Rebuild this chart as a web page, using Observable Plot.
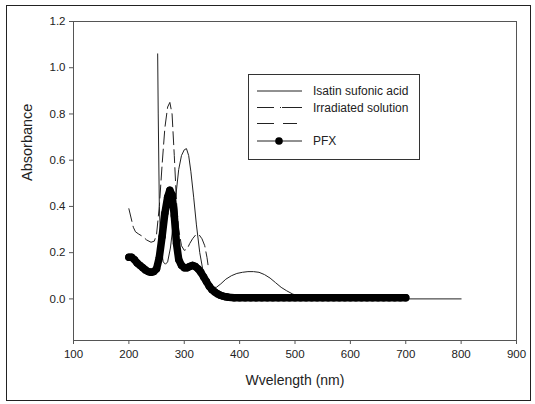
<!DOCTYPE html>
<html>
<head>
<meta charset="utf-8">
<script src="https://cdn.jsdelivr.net/npm/d3@7"></script>
<script src="https://cdn.jsdelivr.net/npm/@observablehq/plot@0.6"></script>
<style>
  body { margin: 0; background: white; }
  #wrap { position: relative; width: 535px; height: 404px; font-family: "Liberation Sans", Arial, sans-serif; }
  #border { position: absolute; left: 6px; top: 5px; width: 523px; height: 394px; border: 1px solid #222; pointer-events: none; }
  #legend { position: absolute; left: 248px; top: 74px; }
</style>
</head>
<body>
<div id="wrap"><div id="chart"></div><div id="border"></div><div id="legend"></div></div>
<script>
// Tick labels
const xTicks = [100, 200, 300, 400, 500, 600, 700, 800, 900];
const yTicks = [0.0, 0.2, 0.4, 0.6, 0.8, 1.0, 1.2];
const xLabel = "Wvelength (nm)";
const yLabel = "Absorbance";

// Series names
const seriesNames = ["Isatin sufonic acid", "Irradiated solution", "", "PFX"];

// Isatin sulfonic acid (solid thin)
const isatinWl  = [252, 253, 255, 258, 262, 266, 270, 275, 280, 285, 290, 295, 300, 304, 308, 312, 317, 322, 328, 334, 340, 346, 352, 358, 366, 375, 385, 395, 405, 415, 425, 435, 445, 455, 465, 475, 485, 495, 505, 515, 600, 700, 800];
const isatinAbs = [1.06, 0.80, 0.40, 0.22, 0.16, 0.15, 0.16, 0.22, 0.32, 0.45, 0.56, 0.62, 0.645, 0.65, 0.62, 0.55, 0.44, 0.32, 0.20, 0.12, 0.08, 0.06, 0.05, 0.05, 0.065, 0.085, 0.10, 0.11, 0.115, 0.118, 0.118, 0.115, 0.105, 0.09, 0.07, 0.05, 0.035, 0.022, 0.012, 0.003, 0.0, 0.0, 0.0];

// Irradiated solution (dashed)
const irrWl  = [200, 204, 208, 212, 218, 225, 232, 240, 246, 250, 255, 260, 265, 270, 274, 278, 282, 286, 290, 295, 300, 305, 310, 315, 320, 326, 332, 337, 341, 344];
const irrAbs = [0.39, 0.35, 0.31, 0.29, 0.28, 0.27, 0.255, 0.245, 0.25, 0.28, 0.40, 0.58, 0.74, 0.83, 0.85, 0.80, 0.62, 0.42, 0.30, 0.23, 0.21, 0.215, 0.24, 0.26, 0.275, 0.28, 0.26, 0.23, 0.18, 0.13];

// PFX (thick line with dots)
const pfxWl  = [200, 205, 210, 215, 220, 225, 230, 235, 240, 245, 250, 255, 260, 265, 270, 274, 278, 282, 286, 290, 295, 300, 305, 310, 315, 320, 325, 330, 335, 340, 345, 350, 355, 360, 365, 370, 375, 380, 390, 400, 410, 420, 430, 440, 450, 460, 470, 480, 490, 500, 510, 520, 530, 540, 550, 560, 570, 580, 590, 600, 610, 620, 630, 640, 650, 660, 670, 680, 690, 700];
const pfxAbs = [0.18, 0.18, 0.17, 0.155, 0.145, 0.135, 0.125, 0.118, 0.115, 0.118, 0.13, 0.18, 0.27, 0.37, 0.44, 0.47, 0.45, 0.36, 0.24, 0.17, 0.145, 0.135, 0.135, 0.14, 0.145, 0.14, 0.13, 0.115, 0.095, 0.075, 0.055, 0.04, 0.03, 0.022, 0.016, 0.012, 0.009, 0.007, 0.005, 0.005, 0.005, 0.005, 0.005, 0.005, 0.005, 0.005, 0.005, 0.005, 0.005, 0.005, 0.005, 0.005, 0.005, 0.005, 0.005, 0.005, 0.005, 0.005, 0.005, 0.005, 0.005, 0.005, 0.005, 0.005, 0.005, 0.005, 0.005, 0.005, 0.005, 0.005];

const isatin = isatinWl.map((x, i) => ({x, y: isatinAbs[i]}));
const irr = irrWl.map((x, i) => ({x, y: irrAbs[i]}));
const pfx = pfxWl.map((x, i) => ({x, y: pfxAbs[i]}));

const chart = Plot.plot({
  width: 535,
  height: 404,
  marginLeft: 73,
  marginRight: 19,
  marginTop: 21,
  marginBottom: 64,
  style: {fontFamily: "'Liberation Sans', Arial, sans-serif", fontSize: "11.5px", color: "#222", background: "white", overflow: "visible"},
  x: {domain: [100, 900]},
  y: {domain: [-0.18, 1.2]},
  marks: [
    Plot.frame({stroke: "#555"}),
    Plot.axisX({ticks: xTicks, tickSize: 4, tickPadding: 5, label: null, stroke: "#555"}),
    Plot.axisY({ticks: yTicks, tickSize: 4, tickPadding: 4, tickFormat: d => d.toFixed(1), label: null, stroke: "#555"}),
    Plot.line(isatin, {x: "x", y: "y", stroke: "#222", strokeWidth: 1}),
    Plot.line(irr, {x: "x", y: "y", stroke: "#222", strokeWidth: 1, strokeDasharray: "13,5"}),
    Plot.line(pfx, {x: "x", y: "y", stroke: "black", strokeWidth: 7.5, strokeLinejoin: "round", strokeLinecap: "round"}),
    Plot.dot(pfx, {x: "x", y: "y", fill: "black", r: 3.7}),
    Plot.text([xLabel], {frameAnchor: "bottom", dy: 44, fontSize: 14, fill: "#222"}),
    Plot.text([yLabel], {frameAnchor: "left", dx: -46, rotate: -90, fontSize: 14.5, fill: "#222"})
  ]
});
document.getElementById("chart").appendChild(chart);

// Legend (box overlay)
const lg = d3.select("#legend").append("svg").attr("width", 173).attr("height", 88)
  .style("font-family", "'Liberation Sans', Arial, sans-serif");
lg.append("rect").attr("x", 0.5).attr("y", 0.5).attr("width", 171).attr("height", 85)
  .attr("fill", "white").attr("stroke", "#333");
const rowsY = [17, 33.5, 49.5, 67];
const dashes = [null, "17,6,1,1,20", "17,9,14", null];
seriesNames.forEach((name, i) => {
  lg.append("line").attr("x1", 9).attr("x2", 54).attr("y1", rowsY[i]).attr("y2", rowsY[i])
    .attr("stroke", "#222").attr("stroke-width", 1)
    .attr("stroke-dasharray", dashes[i]);
  if (i === 3) lg.append("circle").attr("cx", 31).attr("cy", rowsY[i]).attr("r", 3.8).attr("fill", "black");
  lg.append("text").attr("x", 65).attr("y", rowsY[i]).attr("dy", "0.35em")
    .attr("font-size", 12).attr("fill", "#222").text(name);
});
</script>
</body>
</html>
